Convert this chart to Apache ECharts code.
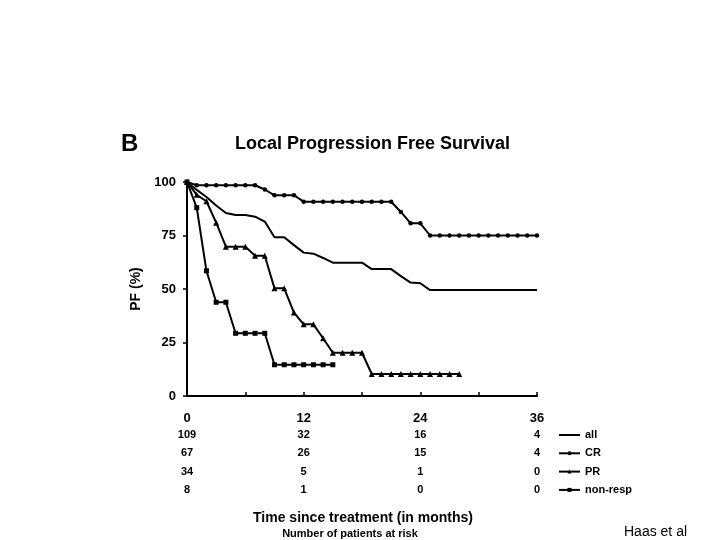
<!DOCTYPE html>
<html>
<head>
<meta charset="utf-8">
<script src="https://cdn.jsdelivr.net/npm/echarts@6/dist/echarts.min.js"></script>
<style>html,body{margin:0;padding:0;background:#fff;}#c{width:720px;height:540px;}</style>
</head>
<body>
<div id="c"></div>
<script>
// ---- data ----
const allMonths = [0,1,2,3,4,5,6,7,8,9,10,11,12,13,14,15,18,19,21,22,23,24,25,36];
const allValues = [100,96.3,93,89,85.5,84.6,84.6,83.8,81.5,74.2,74.2,70.5,67,66.5,64.5,62.3,62.3,59.3,59.3,56,53,52.7,49.5,49.5];

const crMonths = [0,1,2,3,4,5,6,7,8,9,10,11,12,13,14,15,16,17,18,19,20,21,22,23,24,25,26,27,28,29,30,31,32,33,34,35,36];
const crValues = [100,98.5,98.5,98.5,98.5,98.5,98.5,98.5,96.5,93.8,93.8,93.8,90.8,90.8,90.8,90.8,90.8,90.8,90.8,90.8,90.8,90.8,86,80.7,80.7,75,75,75,75,75,75,75,75,75,75,75,75];

const prMonths = [0,1,2,3,4,5,6,7,8,9,10,11,12,13,14,15,16,17,18,19,20,21,22,23,24,25,26,27,28];
const prValues = [100,94,91,81,69.8,69.8,69.8,65.5,65.5,50.3,50.3,39,33.5,33.5,27,20.2,20.2,20.2,20.2,10.3,10.3,10.3,10.3,10.3,10.3,10.3,10.3,10.3,10.3];

const nrMonths = [0,1,2,3,4,5,6,7,8,9,10,11,12,13,14,15];
const nrValues = [100,88,58.5,43.8,43.8,29.3,29.3,29.3,29.3,14.6,14.6,14.6,14.6,14.6,14.6,14.6];

const xTicks = [0,12,24,36];
const yTicks = [0,25,50,75,100];
const riskMonths = [0,12,24,36];
const riskAll = [109,32,16,4];
const riskCR = [67,26,15,4];
const riskPR = [34,5,1,0];
const riskNR = [8,1,0,0];

const seriesNames = ['all','CR','PR','non-resp'];

// ---- chart ----
const FONT = 'Liberation Sans, Arial, sans-serif';
const pairs = (m, v) => m.map((x, i) => [x, v[i]]);
const chart = echarts.init(document.getElementById('c'), null, {renderer: 'canvas'});

function riskAxis(arr, offset) {
  return {
    type: 'value', gridIndex: 0, position: 'bottom', offset: offset,
    min: 0, max: 36, interval: 12,
    axisLine: {show: false}, axisTick: {show: false}, splitLine: {show: false},
    axisLabel: {
      margin: 8, color: '#000', fontFamily: FONT, fontWeight: 'bold', fontSize: 11,
      formatter: v => { const i = riskMonths.indexOf(v); return i >= 0 ? String(arr[i]) : ''; }
    }
  };
}

const lineBase = {type: 'line', xAxisIndex: 0, yAxisIndex: 0, color: '#000',
  lineStyle: {color: '#000', width: 2}, itemStyle: {color: '#000'}, animation: false};

chart.setOption({
  backgroundColor: '#fff',
  animation: false,
  grid: {left: 187, right: 183, top: 182, bottom: 144, containLabel: false},
  xAxis: [
    {
      type: 'value', min: 0, max: 36, interval: 6,
      axisLine: {show: true, lineStyle: {color: '#000', width: 2}},
      axisTick: {show: true, inside: true, length: 4, lineStyle: {color: '#000', width: 1.5}},
      splitLine: {show: false},
      axisLabel: {
        margin: 16, color: '#000', fontFamily: FONT, fontWeight: 'bold', fontSize: 13,
        formatter: v => xTicks.indexOf(v) >= 0 ? String(v) : ''
      }
    },
    riskAxis(riskAll, 25.5),
    riskAxis(riskCR, 43.5),
    riskAxis(riskPR, 62),
    riskAxis(riskNR, 80.5)
  ],
  yAxis: {
    type: 'value', min: 0, max: 100, interval: 25,
    name: 'PF (%)', nameLocation: 'middle', nameGap: 44, nameRotate: 90,
    nameTextStyle: {color: '#000', fontFamily: FONT, fontWeight: 'bold', fontSize: 14},
    axisLine: {show: true, lineStyle: {color: '#000', width: 2}},
    axisTick: {show: true, inside: false, length: 4, lineStyle: {color: '#000', width: 1.5}},
    splitLine: {show: false},
    axisLabel: {
      margin: 11, color: '#000', fontFamily: FONT, fontWeight: 'bold', fontSize: 13,
      formatter: v => yTicks.indexOf(v) >= 0 ? String(v) : ''
    }
  },
  legend: {
    data: [
      {name: seriesNames[0], itemStyle: {color: 'rgba(0,0,0,0)', borderWidth: 0}},
      {name: seriesNames[1]},
      {name: seriesNames[2]},
      {name: seriesNames[3]}
    ],
    orient: 'vertical', left: 558, top: 429.5, padding: 0,
    itemWidth: 21, itemHeight: 5, itemGap: 7.3,
    textStyle: {color: '#000', fontFamily: FONT, fontWeight: 'bold', fontSize: 11},
    selectedMode: false
  },
  series: [
    Object.assign({}, lineBase, {name: seriesNames[0], data: pairs(allMonths, allValues), symbol: 'none', showSymbol: false, z: 2}),
    Object.assign({}, lineBase, {name: seriesNames[1], data: pairs(crMonths, crValues), symbol: 'circle', symbolSize: 4.5, z: 3}),
    Object.assign({}, lineBase, {name: seriesNames[2], data: pairs(prMonths, prValues), symbol: 'triangle', symbolSize: 6, z: 4}),
    Object.assign({}, lineBase, {name: seriesNames[3], data: pairs(nrMonths, nrValues), symbol: 'rect', symbolSize: 5, z: 5})
  ],
  graphic: [
    {type: 'text', x: 121, y: 156, style: {text: 'B', fill: '#000', font: 'bold 24px ' + FONT, textVerticalAlign: 'bottom'}},
    {type: 'text', x: 372.5, y: 153, style: {text: 'Local Progression Free Survival', fill: '#000', font: 'bold 18px ' + FONT, textAlign: 'center', textVerticalAlign: 'bottom'}},
    {type: 'text', x: 363, y: 525, style: {text: 'Time since treatment (in months)', fill: '#000', font: 'bold 14px ' + FONT, textAlign: 'center', textVerticalAlign: 'bottom'}},
    {type: 'text', x: 350, y: 539, style: {text: 'Number of patients at risk', fill: '#000', font: 'bold 11px ' + FONT, textAlign: 'center', textVerticalAlign: 'bottom'}},
    {type: 'text', x: 624, y: 539, style: {text: 'Haas et al', fill: '#000', font: '14px ' + FONT, textAlign: 'left', textVerticalAlign: 'bottom'}}
  ]
});
</script>
</body>
</html>
